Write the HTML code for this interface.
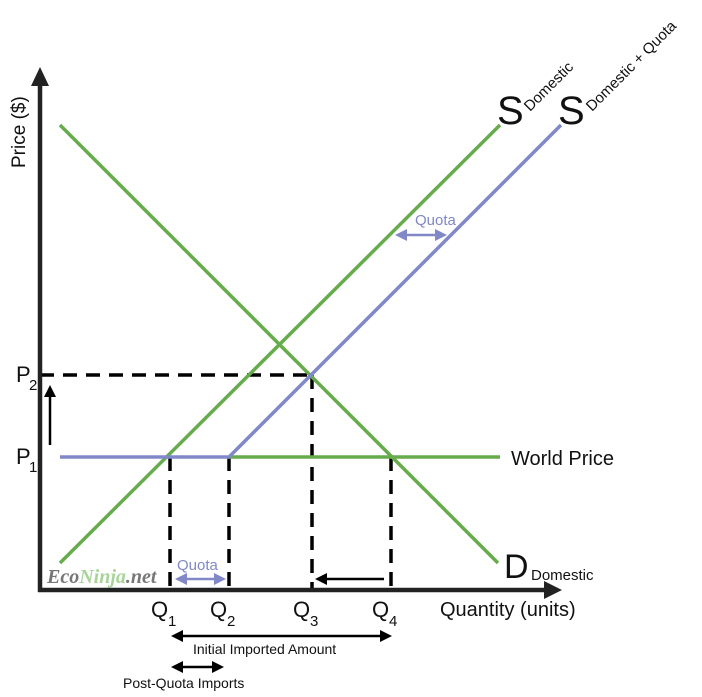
<!DOCTYPE html>
<html><head><meta charset="utf-8"><style>
html,body{margin:0;padding:0;background:#fff;}
svg{display:block;font-family:"Liberation Sans",sans-serif;}
</style></head><body>
<svg id="chart" width="702" height="697" viewBox="0 0 702 697">
<defs>
<marker id="ab" markerWidth="12" markerHeight="12" refX="9" refY="6" orient="auto" markerUnits="userSpaceOnUse"><path d="M0,0 L12,6 L0,12 z" fill="#000"/></marker>
<marker id="ap" markerWidth="12" markerHeight="12" refX="9" refY="6" orient="auto" markerUnits="userSpaceOnUse"><path d="M0,0 L12,6 L0,12 z" fill="#8088c8"/></marker>
<marker id="abs" markerWidth="12" markerHeight="12" refX="9" refY="6" orient="auto-start-reverse" markerUnits="userSpaceOnUse"><path d="M0,0 L12,6 L0,12 z" fill="#000"/></marker>
<marker id="aps" markerWidth="12" markerHeight="12" refX="9" refY="6" orient="auto-start-reverse" markerUnits="userSpaceOnUse"><path d="M0,0 L12,6 L0,12 z" fill="#8088c8"/></marker>
</defs>
<g id="marks"></g>
</svg>
<script>
// data in chart units (x: quantity, y: price)
const quantities = [13.0, 18.9, 27.2, 35.1];
const qLabels = ["Q1","Q2","Q3","Q4"];
const prices = [13.3, 21.5];
const pLabels = ["P1","P2"];
const demandLine = [[2, 46.5], [45.8, 2.7]];
const supplyDomestic = [[2, 2.7], [46, 46.5]];
const supplyQuota = [[2, 13.3], [18.9, 13.3], [52.1, 46.5]];
const worldPriceRange = [18.9, 46];

const xS = v => 40 + v * 10;
const yS = v => 590 - v * 10;
const NS = "http://www.w3.org/2000/svg";
const g = document.getElementById("marks");
function el(tag, attrs, parent) {
  const e = document.createElementNS(NS, tag);
  for (const k in attrs) e.setAttribute(k, attrs[k]);
  (parent || g).appendChild(e);
  return e;
}
function txt(x, y, s, size, fill, extra) {
  const t = el("text", Object.assign({x: x, y: y, "font-size": size, fill: fill || "#111"}, extra || {}));
  t.textContent = s;
  return t;
}
const GREEN = "#66ab4c", BLUE = "#8088c8";

// dashed guides
const p2guide = el("line", {x1: xS(0), y1: yS(prices[1]), x2: xS(quantities[2]), y2: yS(prices[1]), stroke: "#000", "stroke-width": 3.5, "stroke-dasharray": "14,9"});


const qTopPrice = [prices[0], prices[0], prices[1], prices[0]];
quantities.forEach((q, i) => {
  const d = el("line", {x1: xS(q), y1: yS(qTopPrice[i]), x2: xS(q), y2: yS(0), stroke: "#000", "stroke-width": 3.5, "stroke-dasharray": "14,9"});
  
  
});

// world price
const wp = el("line", {x1: xS(worldPriceRange[0]), y1: yS(prices[0]), x2: xS(worldPriceRange[1]), y2: yS(prices[0]), stroke: GREEN, "stroke-width": 3.5});



const dl = el("polyline", {points: demandLine.map(p => xS(p[0]) + "," + yS(p[1])).join(" "), fill: "none", stroke: GREEN, "stroke-width": 3.5});


const sd = el("polyline", {points: supplyDomestic.map(p => xS(p[0]) + "," + yS(p[1])).join(" "), fill: "none", stroke: GREEN, "stroke-width": 3.5});


const sq = el("polyline", {points: supplyQuota.map(p => xS(p[0]) + "," + yS(p[1])).join(" "), fill: "none", stroke: BLUE, "stroke-width": 3.5});



// axes
const ya = el("path", {d: "M40,592 L40,82", stroke: "#222", "stroke-width": 4.5, fill: "none"});


el("path", {d: "M31,86 L40,67 L49,86 z", fill: "#222"});
const xa = el("path", {d: "M38,590 L548,590", stroke: "#222", "stroke-width": 4.5, fill: "none"});


el("path", {d: "M544,581 L562,590 L544,599 z", fill: "#222"});

const yt = txt(0, 0, "Price ($)", 19, "#111", {transform: "translate(25,168) rotate(-90)"});


const xt = txt(440, 616, "Quantity (units)", 20);



// tick labels
prices.forEach((p, i) => {
  const t = txt(16, yS(p) + 7, pLabels[i][0], 22);
  
  
  txt(29, yS(p) + 15, pLabels[i].slice(1), 15);
});
quantities.forEach((q, i) => {
  const t = txt(xS(q) - 19, 617, qLabels[i][0], 22);
  
  
  txt(xS(q) - 2, 626, qLabels[i].slice(1), 15);
});

// arrows
el("line", {x1: 50, y1: 445, x2: 50, y2: 388, stroke: "#000", "stroke-width": 2.5, "marker-end": "url(#ab)"});
el("line", {x1: 384, y1: 579, x2: 318, y2: 579, stroke: "#000", "stroke-width": 2.5, "marker-end": "url(#ab)"});
el("line", {x1: xS(quantities[0]) + 4, y1: 636, x2: xS(quantities[3]) - 2, y2: 636, stroke: "#000", "stroke-width": 2.5, "marker-end": "url(#ab)", "marker-start": "url(#abs)"});
el("line", {x1: xS(quantities[0]) + 4, y1: 667, x2: xS(quantities[1]) - 8, y2: 667, stroke: "#000", "stroke-width": 2.5, "marker-end": "url(#ab)", "marker-start": "url(#abs)"});
el("line", {x1: xS(quantities[0]) + 8, y1: 579, x2: xS(quantities[1]) - 6, y2: 579, stroke: BLUE, "stroke-width": 2.5, "marker-end": "url(#ap)", "marker-start": "url(#aps)"});
el("line", {x1: 398, y1: 235, x2: 444, y2: 235, stroke: BLUE, "stroke-width": 2.5, "marker-end": "url(#ap)", "marker-start": "url(#aps)"});

// labels
const l1 = txt(193, 654, "Initial Imported Amount", 14);


const l2 = txt(123, 688, "Post-Quota Imports", 14);


const q1 = txt(177, 570, "Quota", 15, BLUE);


const q2 = txt(415, 225, "Quota", 15, BLUE);


const wl = txt(511, 465, "World Price", 20);


const dlab = txt(504, 578, "D", 34);


txt(531, 580, "Domestic", 15);
const s1 = txt(497, 124, "S", 40);


txt(0, 0, "Domestic", 15, "#111", {transform: "translate(530,112) rotate(-45)"});
const s2 = txt(558, 124, "S", 40);


txt(0, 0, "Domestic + Quota", 15, "#111", {transform: "translate(592,112) rotate(-45)"});

const wm = el("text", {x: 47, y: 583, "font-size": 20, "font-family": "Liberation Serif, serif", "font-weight": "bold", "font-style": "italic"});


wm.innerHTML = '<tspan fill="#777">Eco</tspan><tspan fill="#a8d49a">Ninja</tspan><tspan fill="#777">.net</tspan>';
</script>
</body></html>
